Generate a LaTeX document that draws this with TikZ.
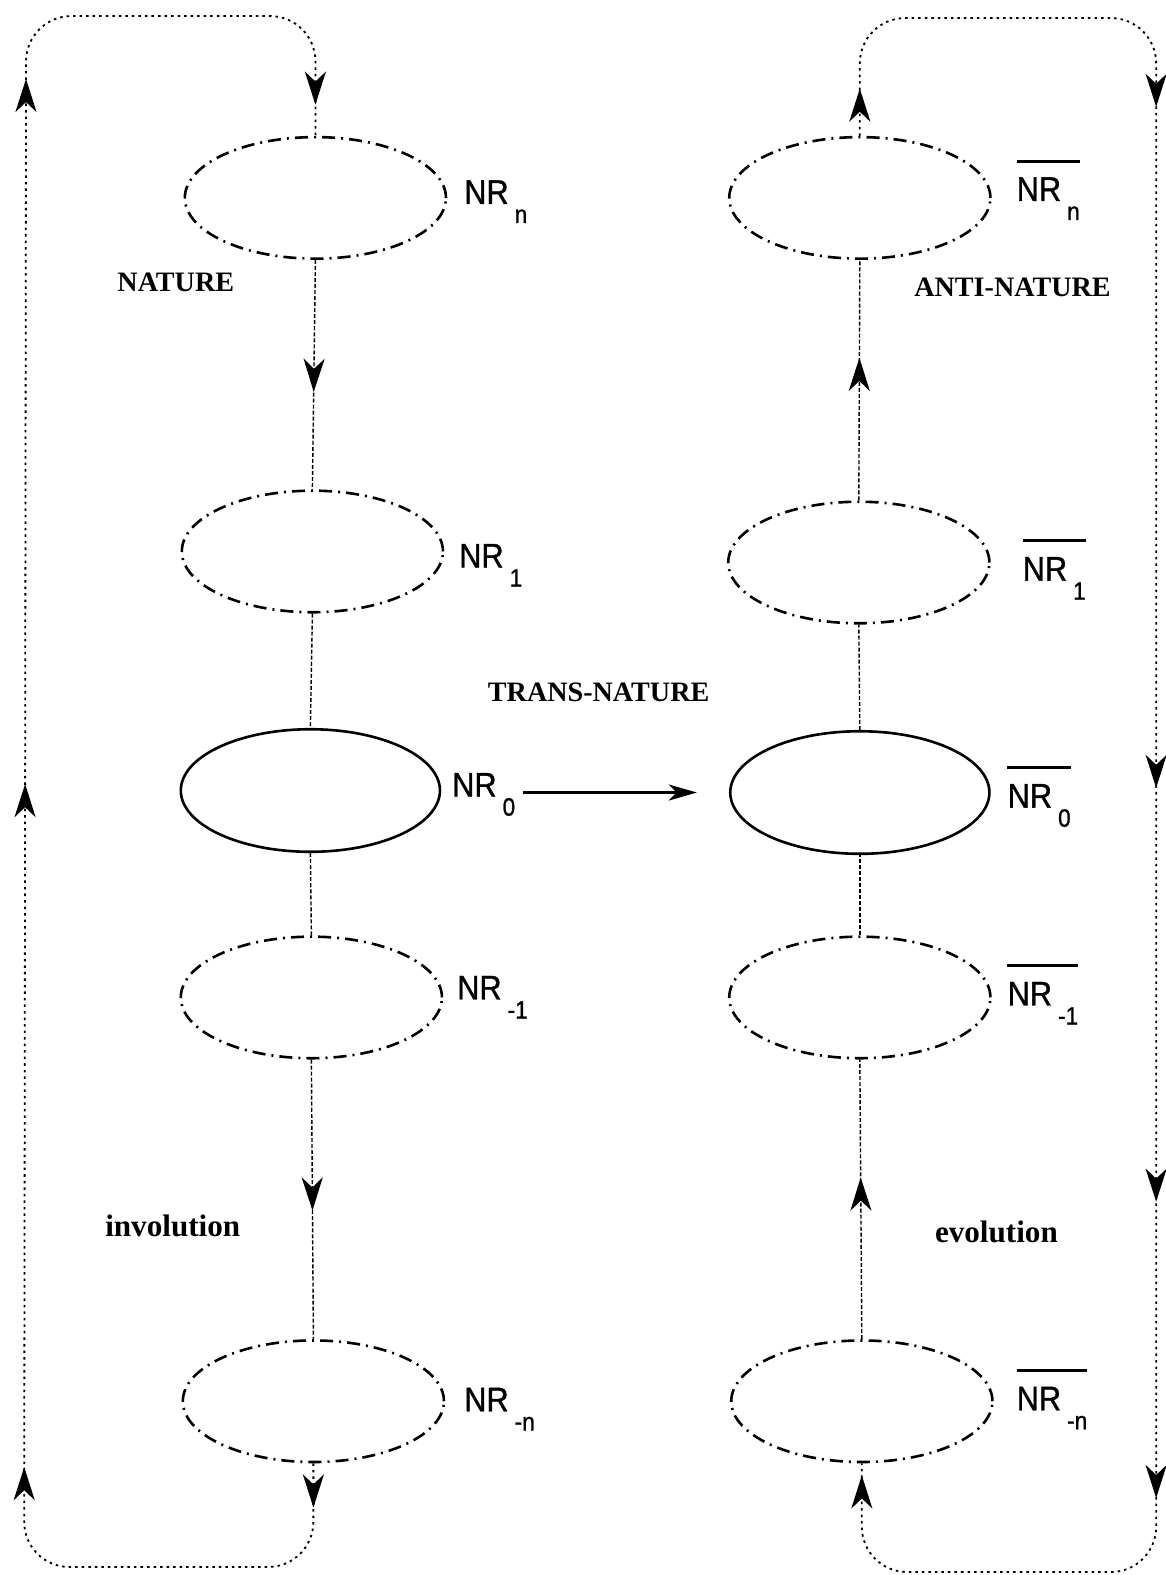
\documentclass[tikz,border=0pt]{standalone}
\usepackage{fontspec}
\setmainfont{Liberation Serif}
\newfontfamily\nrfont[FakeStretch=0.9,FakeBold=1]{Liberation Sans}
\usetikzlibrary{arrows.meta,decorations.markings,shapes.geometric}
\newcommand\nrsub[1]{\hspace{6pt}\raisebox{-19pt}{\fontsize{25}{25}\selectfont #1}}
\tikzset{
  bigtip/.tip={Stealth[length=33pt,width=21pt,inset=10pt]},
  nrgn/.style={ellipse, draw, minimum width=260pt, minimum height=121pt, inner sep=0pt,
    line width=2.6pt, dash pattern=on 13pt off 6pt on 2pt off 6pt},
  nzero/.style={ellipse, draw, minimum width=258pt, minimum height=122pt, inner sep=0pt,
    line width=2.6pt, solid},
  nlink/.style={line width=1.4pt, dash pattern=on 4pt off 2pt},
  nloop/.style={line width=1.8pt, dash pattern=on 2.5pt off 4pt, rounded corners=45pt},
  nlab/.style={anchor=base west, inner sep=0pt, font=\nrfont\fontsize{34}{34}\selectfont},
  nword/.style={inner sep=0pt, font=\bfseries\fontsize{28}{28}\selectfont},
  nbar/.style={line width=2.8pt},
  midtip/.style={postaction={decorate}, decoration={markings, mark=at position #1 with {\arrow{bigtip}}}},
}
\begin{document}
\begin{tikzpicture}[x=1pt,y=-1pt]
\useasboundingbox (0,0) rectangle (1160,1568);

% left column (NATURE)
\node[nrgn]  (en)   at (314,197)  {};
\node[nrgn]  (e1)   at (311,549)  {};
\node[nzero] (e0)   at (309,787)  {};
\node[nrgn]  (em1)  at (310,993)  {};
\node[nrgn]  (emn)  at (312,1395) {};

% right column (ANTI-NATURE)
\node[nrgn]  (ebn)  at (856,197)  {};
\node[nrgn]  (eb1)  at (855,560)  {};
\node[nzero] (eb0)  at (856,789)  {};
\node[nrgn]  (ebm1) at (856,993)  {};
\node[nrgn]  (ebmn) at (858,1395) {};

% labels left
\node[nlab] (ln)   at (462,203)  {NR\nrsub{n}};
\node[nlab] (l1)   at (457,565)  {NR\nrsub{1}};
\node[nlab] (l0)   at (450,793)  {NR\nrsub{0}};
\node[nlab] (lm1)  at (455,995)  {NR\nrsub{-1}};
\node[nlab] (lmn)  at (462,1405) {NR\nrsub{-n}};

% labels right
\node[nlab] (rn)   at (1012,200)  {NR\nrsub{n}};
\node[nlab] (r1)   at (1018,578)  {NR\nrsub{1}};
\node[nlab] (r0)   at (1003,804)  {NR\nrsub{0}};
\node[nlab] (rm1)  at (1003,1001) {NR\nrsub{-1}};
\node[nlab] (rmn)  at (1012,1404) {NR\nrsub{-n}};
\foreach \b in {rn,r1,r0,rm1,rmn}{
  \draw[nbar] ([yshift=16pt]\b.north west) -- ([yshift=16pt]\b.north east);
}

% words
\node[nword] (nat)   at (175,281)  {NATURE};
\node[nword] (anat)  at (1008,286) {ANTI-NATURE};
\node[nword] (trans) at (596,689)  {TRANS-NATURE};
\node[inner sep=0pt, font=\bfseries\fontsize{31}{31}\selectfont] (inv) at (172,1220) {involution};
\node[inner sep=0pt, font=\bfseries\fontsize{31}{31}\selectfont] (evo) at (992,1226) {evolution};

% vertical links left
\draw[nlink, midtip=0.575] (en.south) -- (e1.north);
\draw[nlink] (e1.south) -- (e0.north);
\draw[nlink] (e0.south) -- (em1.north);
\draw[nlink, midtip=0.54] (em1.south) -- (emn.north);

% vertical links right
\draw[nlink, midtip=0.593] (eb1.north) -- (ebn.south);
\draw[nlink] (eb0.north) -- (eb1.south);
\draw[nlink] (ebm1.north) -- (eb0.south);
\draw[nlink, midtip=0.578] (ebmn.north) -- (ebm1.south);

% trans-nature arrow
\draw[line width=2.2pt, shorten <=8pt, shorten >=32pt, -{Stealth[length=28pt,width=16pt,inset=8pt]}]
  (l0.east |- eb0.west) -- (eb0.west);

% outer loops
\coordinate (lbl) at (24,1560);
\coordinate (ltl) at (26,16);
\draw[nloop, postaction={decorate}, decoration={markings,
    mark=at position 44pt with {\arrow{bigtip}},
    mark=at position 452pt with {\arrow{bigtip}},
    mark=at position 1132pt with {\arrow{bigtip}},
    mark=at position 1834pt with {\arrow{bigtip}},
    mark=at position -31pt with {\arrow{bigtip}}}]
  (emn.south) -- (emn.south |- lbl) -- (lbl) -- (ltl) -- (en.north |- ltl) -- (en.north);

\coordinate (rtr) at (1151,18);
\coordinate (rbr) at (1151,1565);
\draw[nloop, postaction={decorate}, decoration={markings,
    mark=at position 47pt with {\arrow{bigtip}},
    mark=at position 462pt with {\arrow{bigtip}},
    mark=at position 1140pt with {\arrow{bigtip}},
    mark=at position 1552pt with {\arrow{bigtip}},
    mark=at position 1847pt with {\arrow{bigtip}},
    mark=at position -12pt with {\arrow{bigtip}}}]
  (ebn.north) -- (ebn.north |- rtr) -- (rtr) -- (rbr) -- (ebmn.south |- rbr) -- (ebmn.south);
\end{tikzpicture}
\end{document}
